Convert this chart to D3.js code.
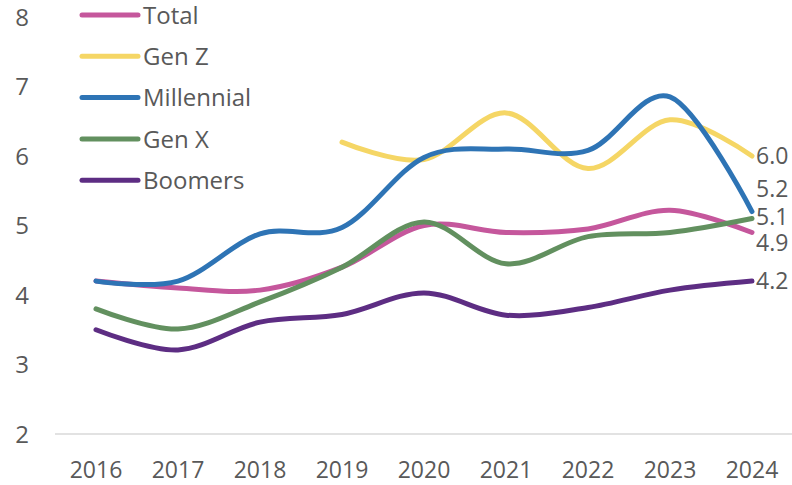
<!DOCTYPE html>
<html>
<head>
<meta charset="utf-8">
<script src="https://cdn.jsdelivr.net/npm/d3@7"></script>
<style>
  body { margin: 0; background: #fff; }
  text { font-family: "Open Sans", "Noto Sans", sans-serif; fill: #595959; }
</style>
</head>
<body>
<div id="chart"></div>
<script>
var years = [2016, 2017, 2018, 2019, 2020, 2021, 2022, 2023, 2024];
var seriesNames = ["Total", "Gen Z", "Millennial", "Gen X", "Boomers"];
var total      = [4.2, 4.1, 4.07, 4.4, 5.0, 4.9, 4.95, 5.22, 4.9];
var genZ       = [null, null, null, 6.2, 5.95, 6.62, 5.82, 6.52, 6.0];
var millennial = [4.2, 4.2, 4.88, 4.97, 5.98, 6.1, 6.08, 6.85, 5.2];
var genX       = [3.8, 3.51, 3.9, 4.4, 5.05, 4.45, 4.84, 4.9, 5.1];
var boomers    = [3.5, 3.21, 3.61, 3.72, 4.03, 3.71, 3.82, 4.07, 4.2];
var endLabels  = ["4.9", "6.0", "5.2", "5.1", "4.2"];
var yTicks = [2, 3, 4, 5, 6, 7, 8];

// styles
var colors = ["#c5579c", "#f5d665", "#2e74b5", "#62905f", "#5d2d83"];
var labelDy = [10, 0, -23, -2, 0];

var width = 792, height = 485;
var svg = d3.select("#chart").append("svg")
  .attr("width", width).attr("height", height);

var x = d3.scalePoint().domain(years).range([96, 752]);
var y = d3.scaleLinear().domain([2, 8]).range([434, 17]);

// baseline grid
svg.append("line")
  .attr("x1", 55).attr("x2", 792)
  .attr("y1", y(2)).attr("y2", y(2))
  .attr("stroke", "#d9d9d9").attr("stroke-width", 1.3);

// y tick labels
svg.selectAll(".ytick").data(yTicks).enter().append("text")
  .attr("class", "ytick")
  .attr("x", 22).attr("y", function(d) { return y(d); })
  .attr("dy", "0.36em")
  .attr("text-anchor", "middle")
  .style("font-size", "24px")
  .text(function(d) { return d; });

// x tick labels
svg.selectAll(".xtick").data(years).enter().append("text")
  .attr("class", "xtick")
  .attr("x", function(d) { return x(d); }).attr("y", 478)
  .attr("text-anchor", "middle")
  .style("font-size", "23px")
  .text(function(d) { return d; });

var data = [total, genZ, millennial, genX, boomers];
var line = d3.line()
  .defined(function(d) { return d[1] !== null; })
  .x(function(d) { return x(d[0]); })
  .y(function(d) { return y(d[1]); })
  .curve(d3.curveCardinal.tension(0));

// draw order: Gen Z under the others
var order = [1, 0, 3, 4, 2];
order.forEach(function(i) {
  var pts = years.map(function(yr, j) { return [yr, data[i][j]]; })
    .filter(function(p) { return p[1] !== null; });
  svg.append("path")
    .attr("d", line(pts))
    .attr("fill", "none")
    .attr("stroke", colors[i])
    .attr("stroke-width", 5)
    .attr("stroke-linecap", "round")
    .attr("stroke-linejoin", "round");
});

// end labels
data.forEach(function(s, i) {
  var last = s[s.length - 1];
  svg.append("text")
    .attr("x", x(2024) + 4)
    .attr("y", y(last) + labelDy[i])
    .attr("dy", "0.36em")
    .style("font-size", "23px")
    .text(endLabels[i]);
});

// legend
var legend = svg.append("g");
seriesNames.forEach(function(name, i) {
  var ly = 15 + i * 41.3;
  legend.append("line")
    .attr("x1", 82).attr("x2", 138)
    .attr("y1", ly).attr("y2", ly)
    .attr("stroke", colors[i]).attr("stroke-width", 5)
    .attr("stroke-linecap", "round");
  legend.append("text")
    .attr("x", 143).attr("y", ly)
    .attr("dy", "0.36em")
    .style("font-size", "24px")
    .text(name);
});
</script>
</body>
</html>
